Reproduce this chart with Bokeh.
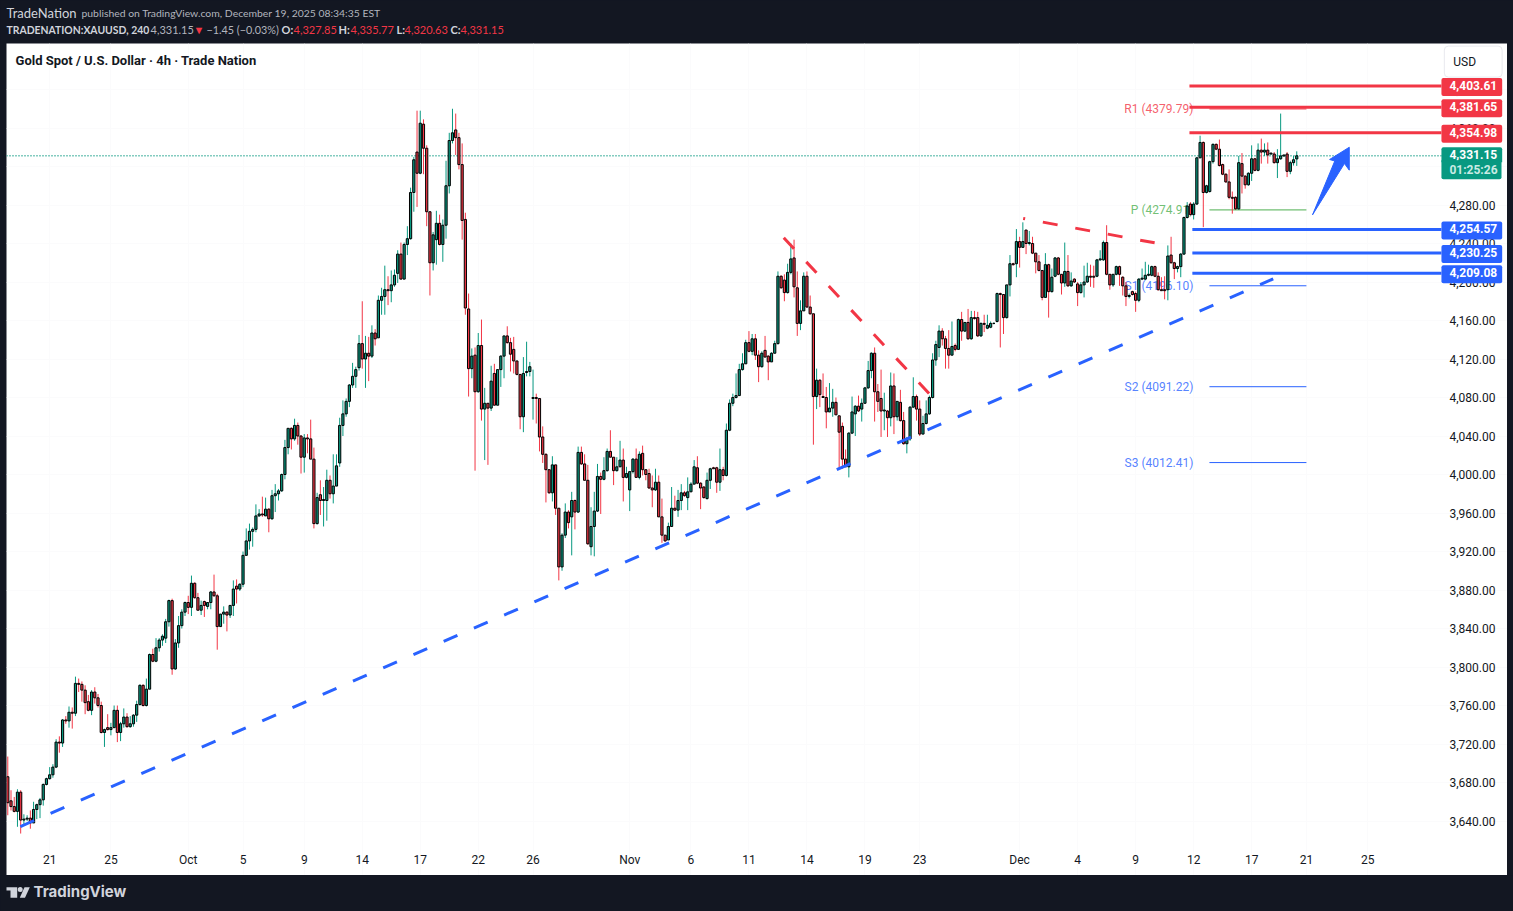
from bokeh.core.properties import value
from bokeh.embed import file_html
from bokeh.layouts import column
from bokeh.models import ColumnDataSource, FixedTicker, Label, NumeralTickFormatter, Range1d
from bokeh.plotting import figure
from bokeh.resources import INLINE

# 4h candles
opens = [3686,3661,3655,3650,3670,3641,3642,3643,3638,3652,3657,3662,3678,3684,3688,3696,3722,3721,3745,3744,
 3753,3752,3783,3782,3776,3764,3755,3774,3768,3760,3732,3737,3735,3737,3755,3732,3741,3748,3738,3741,
 3750,3761,3781,3760,3777,3813,3806,3820,3828,3830,3847,3869,3798,3825,3843,3857,3867,3862,3887,3872,
 3859,3868,3863,3867,3878,3874,3842,3855,3857,3854,3864,3884,3881,3886,3916,3931,3941,3943,3957,3959,
 3957,3964,3954,3978,3980,3983,4000,4028,4048,4037,4051,4040,4018,4038,4037,4016,3949,3979,3973,3973,
 3994,3980,3988,4012,4051,4063,4076,4093,4102,4111,4136,4120,4126,4123,4147,4142,4181,4185,4192,4191,
 4197,4209,4229,4203,4239,4245,4293,4335,4313,4364,4339,4273,4220,4244,4261,4239,4259,4300,4347,4358,
 4350,4322,4265,4172,4110,4124,4086,4134,4068,4074,4069,4105,4072,4109,4123,4144,4137,4130,4118,4104,
 4060,4106,4107,4079,4080,4079,4039,4021,4005,3981,4010,3965,3904,3937,3961,3956,3973,3961,4023,4011,
 3994,3925,3946,3962,3998,3995,4004,4024,4018,4004,4008,4015,3997,3984,4003,4016,3997,4022,4005,4001,
 3986,3984,3992,3956,3937,3932,3946,3965,3963,3973,3981,3976,3982,3990,4007,3991,3987,3975,3994,4007,
 4007,3992,4005,3999,4046,4074,4080,4082,4109,4115,4137,4128,4141,4124,4112,4129,4123,4117,4126,4136,
 4206,4202,4189,4210,4225,4194,4157,4170,4206,4174,4167,4081,4098,4081,4080,4065,4069,4075,4061,4050,
 4016,4008,4043,4063,4071,4068,4074,4090,4108,4126,4086,4079,4066,4066,4059,4092,4060,4075,4056,4032,
 4037,4070,4081,4068,4042,4053,4063,4080,4119,4132,4149,4141,4131,4124,4134,4130,4161,4149,4158,4141,
 4163,4163,4144,4157,4152,4153,4157,4159,4188,4187,4163,4197,4219,4219,4242,4236,4254,4240,4240,4230,
 4221,4212,4184,4218,4190,4206,4225,4208,4199,4211,4196,4203,4198,4189,4197,4200,4206,4206,4206,4223,
 4223,4241,4208,4197,4208,4216,4205,4196,4185,4190,4188,4181,4203,4203,4207,4207,4216,4206,4192,4192,
 4192,4228,4220,4214,4216,4229,4267,4281,4270,4281,4329,4345,4293,4294,4325,4343,4338,4322,4312,4304,
 4288,4288,4276,4323,4310,4301,4313,4328,4316,4337,4335,4337,4333,4333,4324,4328,4331,4333,4315,4324,
 4327.85]
highs = [3707,3672,3665,3673,3672,3647,3646,3651,3660,3658,3664,3679,3685,3696,3699,3725,3728,3746,3749,3759,
 3758,3790,3788,3785,3781,3771,3776,3779,3772,3764,3736,3751,3742,3760,3760,3743,3757,3752,3749,3751,
 3765,3782,3782,3788,3814,3819,3830,3830,3834,3850,3870,3871,3829,3853,3860,3868,3874,3895,3888,3877,
 3869,3869,3867,3879,3896,3876,3855,3863,3858,3864,3890,3891,3887,3920,3944,3949,3945,3969,3964,3977,
 3976,3965,3984,3990,3985,4001,4036,4048,4049,4058,4054,4041,4042,4042,4057,4028,3981,3994,3987,4005,
 3999,4021,4021,4059,4077,4079,4094,4116,4112,4145,4180,4144,4143,4155,4151,4186,4194,4217,4206,4212,
 4213,4233,4241,4241,4258,4298,4330,4378,4378,4369,4342,4273,4252,4274,4270,4265,4326,4355,4380,4375,
 4355,4344,4272,4188,4131,4132,4147,4161,4090,4074,4113,4115,4109,4124,4144,4154,4142,4143,4118,4104,
 4122,4138,4117,4109,4084,4079,4050,4022,4005,4019,4010,3965,3939,3970,3963,3982,3974,4029,4029,4021,
 4010,3966,3982,4011,4002,4018,4027,4046,4018,4018,4035,4027,4008,4003,4017,4027,4024,4030,4005,4006,
 3999,4006,3999,3975,3937,3950,3987,3978,3984,3990,3983,3997,3992,4015,4019,3992,3988,4002,4007,4008,
 4008,4027,4008,4053,4078,4084,4105,4115,4126,4140,4149,4146,4146,4129,4128,4144,4124,4127,4139,4211,
 4207,4208,4219,4240,4244,4211,4181,4210,4211,4186,4167,4110,4099,4105,4091,4095,4089,4080,4061,4054,
 4026,4044,4081,4072,4082,4079,4091,4118,4127,4132,4094,4109,4085,4067,4106,4105,4076,4088,4065,4039,
 4071,4101,4083,4077,4061,4077,4082,4126,4139,4155,4152,4144,4150,4159,4136,4162,4169,4158,4172,4170,
 4170,4169,4158,4166,4166,4159,4158,4189,4189,4187,4197,4228,4220,4255,4247,4262,4254,4253,4247,4230,
 4228,4212,4230,4219,4214,4226,4226,4208,4241,4228,4210,4204,4200,4200,4217,4220,4218,4217,4224,4233,
 4243,4259,4208,4208,4217,4217,4206,4200,4188,4191,4190,4204,4214,4221,4218,4217,4217,4210,4205,4206,
 4238,4247,4221,4217,4230,4268,4283,4283,4283,4330,4352,4346,4301,4326,4344,4344,4348,4323,4313,4317,
 4294,4289,4331,4334,4311,4314,4342,4329,4344,4349,4344,4345,4334,4335,4338,4375,4332,4335,4326,4331,
 4335.77]
lows = [3646,3651,3649,3634,3627,3635,3640,3632,3638,3642,3643,3656,3677,3683,3685,3695,3711,3717,3741,3737,
 3736,3749,3774,3764,3751,3754,3750,3762,3758,3731,3717,3734,3729,3737,3722,3723,3737,3737,3737,3738,
 3743,3760,3759,3759,3777,3805,3805,3816,3822,3825,3842,3792,3797,3820,3840,3853,3855,3853,3871,3859,
 3854,3852,3860,3860,3873,3818,3842,3845,3837,3851,3853,3866,3879,3883,3916,3922,3925,3940,3956,3956,
 3957,3940,3953,3961,3973,3982,3995,4021,4026,4035,4031,4001,4002,4022,4016,3944,3948,3958,3946,3952,
 3975,3970,3988,4008,4040,4060,4070,4090,4090,4108,4110,4090,4097,4121,4134,4142,4166,4166,4176,4179,
 4195,4199,4203,4203,4228,4244,4273,4278,4312,4312,4258,4186,4212,4218,4238,4221,4245,4292,4344,4332,
 4317,4244,4166,4081,4100,4004,4085,4056,4015,4010,4066,4072,4072,4091,4100,4136,4107,4105,4103,4047,
 4044,4102,4102,4057,4053,4024,4012,3971,3980,3972,3958,3890,3900,3934,3944,3916,3943,3960,4010,3994,
 3927,3916,3915,3961,3959,3994,4003,4018,3989,4003,4008,3972,3996,3962,4001,3997,3995,3999,3994,3985,
 3966,3983,3956,3929,3930,3932,3946,3962,3956,3963,3977,3963,3982,3990,3990,3964,3975,3974,3985,4006,
 3981,3983,3994,3998,4045,4071,4079,4082,4108,4115,4127,4124,4119,4096,4111,4122,4098,4117,4126,4135,
 4193,4180,4188,4208,4184,4144,4150,4170,4173,4166,4031,4068,4070,4080,4048,4065,4060,4062,4006,4006,
 4008,3997,4042,4040,4065,4055,4074,4089,4100,4055,4065,4039,4046,4039,4050,4042,4056,4055,4031,4022,
 4035,4069,4056,4040,4042,4052,4062,4079,4113,4122,4134,4110,4110,4124,4128,4130,4139,4148,4140,4140,
 4161,4143,4143,4148,4151,4152,4156,4158,4132,4146,4162,4185,4217,4205,4215,4236,4229,4238,4229,4209,
 4211,4181,4184,4163,4189,4205,4207,4187,4195,4195,4195,4199,4175,4188,4184,4199,4195,4194,4205,4222,
 4222,4207,4192,4195,4207,4196,4186,4175,4183,4186,4169,4179,4202,4202,4206,4206,4205,4191,4191,4182,
 4181,4219,4203,4210,4205,4228,4266,4269,4265,4280,4329,4257,4292,4293,4323,4337,4320,4311,4303,4286,
 4271,4275,4275,4292,4297,4300,4305,4315,4315,4323,4331,4323,4332,4323,4308,4327,4330,4309,4312,4321,
 4320.63]
closes = [3659,3655,3650,3670,3641,3642,3643,3638,3652,3657,3662,3678,3684,3688,3696,3722,3721,3745,3744,3753,
 3752,3783,3782,3776,3763,3755,3774,3768,3760,3732,3735,3735,3737,3755,3732,3741,3748,3738,3741,3750,
 3761,3781,3760,3777,3813,3806,3820,3828,3832,3847,3869,3798,3825,3843,3857,3867,3862,3887,3872,3859,
 3864,3864,3867,3878,3874,3842,3855,3857,3854,3864,3881,3881,3886,3916,3931,3941,3943,3957,3959,3958,
 3964,3954,3978,3980,3983,4000,4028,4048,4037,4051,4040,4018,4038,4037,4016,3949,3976,3973,3974,3994,
 3980,3988,4009,4051,4063,4076,4093,4102,4109,4136,4120,4126,4123,4147,4141,4181,4185,4192,4191,4197,
 4207,4229,4203,4239,4245,4293,4327,4313,4365,4339,4273,4220,4249,4261,4239,4259,4300,4347,4355,4350,
 4322,4264,4173,4110,4123,4086,4134,4068,4074,4069,4097,4072,4109,4123,4144,4137,4125,4118,4104,4060,
 4105,4107,4112,4080,4079,4039,4021,4005,3981,4010,3965,3904,3937,3961,3950,3973,3961,4023,4011,3994,
 3928,3946,3962,3998,3995,4004,4024,4018,4004,4008,4015,3997,4001,4003,4016,3997,4021,4005,4000,3986,
 3984,3992,3956,3937,3931,3946,3965,3963,3973,3981,3978,3982,3990,4008,3991,3986,3976,3994,4006,4006,
 3992,4005,3999,4046,4074,4080,4082,4109,4115,4137,4128,4141,4124,4112,4126,4122,4117,4126,4136,4206,
 4194,4189,4210,4224,4195,4157,4170,4206,4174,4167,4081,4098,4083,4080,4065,4069,4075,4062,4044,4016,
 4008,4043,4065,4071,4066,4074,4090,4108,4126,4086,4076,4066,4067,4059,4092,4060,4076,4056,4032,4037,
 4070,4081,4068,4042,4053,4063,4080,4119,4135,4149,4141,4131,4124,4133,4130,4161,4149,4158,4141,4163,
 4162,4144,4157,4156,4155,4157,4157,4188,4187,4163,4197,4219,4218,4242,4236,4242,4240,4241,4230,4221,
 4212,4184,4218,4190,4205,4225,4208,4199,4211,4196,4201,4200,4189,4197,4200,4206,4205,4205,4223,4224,
 4241,4208,4197,4208,4216,4208,4196,4185,4186,4187,4181,4203,4204,4207,4208,4216,4206,4192,4191,4191,
 4227,4220,4214,4216,4229,4267,4279,4270,4281,4329,4345,4293,4300,4325,4343,4338,4321,4312,4304,4288,
 4287,4276,4324,4310,4301,4313,4328,4316,4337,4335,4337,4332,4334,4324,4328,4331,4332,4315,4324,4327,
 4331.15]

price_ticks = [3640,3680,3720,3760,3800,3840,3880,3920,3960,4000,4040,4080,4120,4160,4200,4240,4280,4320,4360,4400]
date_bars = [13,32,56,73,92,110,128,146,163,193,212,230,248,266,283,314,332,350,368,386,403,422]
date_labels = ["21","25","Oct","5","9","14","17","22","26","Nov","6","11","14","19","23","Dec","4","9","12","17","21","25"]

red_levels = [4403.61,4381.65,4354.98]
blue_levels = [4254.57,4230.25,4209.08]
last_price = 4331.15

pivot_names = ["R1 (4379.79)","P (4274.91)","S1 (4196.10)","S2 (4091.22)","S3 (4012.41)"]
pivot_values = [4379.79,4274.91,4196.10,4091.22,4012.41]
pivot_colors = ["#f23645","#4caf50","#2962ff","#2962ff","#2962ff"]

trend_x = [3.9,392.7]
trend_y = [3634.3,4203.3]
fall_x = [240.8,286.0]
fall_y = [4246,4083.8]
flat_x = [315.1,355.9]
flat_y = [4266,4240.7]
arrow_x = [404.9,411.8,410.2,416.3,416.3,414.8]
arrow_y = [4269.8,4325.7,4327.3,4340,4316.2,4323.1]

DARK = "#131722"
GREEN = "#089981"
RED = "#f23645"
BLUE = "#2962ff"
FONT = "Roboto"
HEAD_FONT = "Lato"
SCALE_X = 444.9  # where the price scale starts
TIME_Y = 3619.8  # where the time scale starts

n = len(closes)
colors = [GREEN if c >= o else RED for o, c in zip(opens, closes)]
source = ColumnDataSource(data=dict(
    x=list(range(n)), o=opens, h=highs, l=lows, c=closes, color=colors,
    top=[max(a, b) for a, b in zip(opens, closes)],
    bottom=[min(a, b) for a, b in zip(opens, closes)],
))

# main chart: the frame covers the whole white panel, the axes sit inside it
p = figure(width=1501, height=832, output_backend="svg", toolbar_location=None, tools="",
           x_range=Range1d(-0.4, 465.4), y_range=Range1d(3583.4, 4447.8), y_axis_location="right",
           min_border=0, background_fill_color="white", border_fill_color="white", margin=(0, 6, 0, 6))
p.outline_line_color = None
p.xgrid.grid_line_color = "#fbfbfc"
p.ygrid.grid_line_color = "#fbfbfc"
p.xgrid.bounds = (TIME_Y, 4447.8)
p.ygrid.bounds = (-0.4, SCALE_X)

p.xaxis.ticker = FixedTicker(ticks=date_bars)
p.xaxis.major_label_overrides = dict(zip(date_bars, date_labels))
p.yaxis.ticker = FixedTicker(ticks=price_ticks)
p.yaxis.formatter = NumeralTickFormatter(format="0,0.00")
p.xaxis.fixed_location = TIME_Y
p.yaxis.fixed_location = SCALE_X
for ax in (p.xaxis[0], p.yaxis[0]):
    ax.axis_line_color = None
    ax.major_tick_line_color = None
    ax.major_tick_out = 0
    ax.minor_tick_line_color = None
    ax.major_label_text_font = FONT
    ax.major_label_text_font_size = "12px"
    ax.major_label_text_color = "#131722"
p.xaxis.major_label_standoff = 13
p.yaxis.major_label_standoff = 8

p.line([-0.4, SCALE_X], [last_price, last_price], line_color=GREEN, line_width=1.5, line_dash=[1, 2])

# pivot labels sit under the candles
label_right = 367.9
p.text([label_right] * 5, pivot_values, text=pivot_names, text_color=pivot_colors, text_align="right",
       text_baseline="middle", text_font=value(FONT), text_font_size="12px", text_alpha=0.8)
for v, col in zip(pivot_values, pivot_colors):
    p.line([372.9, 403], [v, v], line_color=col, line_width=1)

p.segment("x", "h", "x", "l", source=source, line_color="color", line_width=1)
p.vbar(x="x", top="top", bottom="bottom", width=0.68, source=source, fill_color="color",
       line_color="black", line_width=1)

for v in red_levels:
    p.line([366.7, SCALE_X], [v, v], line_color=RED, line_width=3)
for v in blue_levels:
    p.line([367.6, SCALE_X], [v, v], line_color=BLUE, line_width=3)

p.line(trend_x, trend_y, line_color=BLUE, line_width=3, line_dash=[15, 18])
p.line(fall_x, fall_y, line_color=RED, line_width=3, line_dash=[15, 18])
p.line(flat_x, flat_y, line_color=RED, line_width=3, line_dash=[15, 18], line_dash_offset=13)
p.patch(arrow_x, arrow_y, fill_color=BLUE, line_color=BLUE, line_width=1)

p.add_layout(Label(x=2.4, y=4430, text="Gold Spot / U.S. Dollar · 4h · Trade Nation", text_font=FONT,
                   text_font_size="13px", text_font_style="bold", text_color="#131722", text_baseline="middle"))
p.add_layout(Label(x=445.8, y=4429, text="USD", text_font=FONT, text_font_size="12px", text_color="#131722",
                   text_baseline="middle", border_line_color="#e8e9ee", background_fill_color="white",
                   border_radius=4, padding=(9, 26, 9, 8)))

# price tags on the scale
for v in red_levels + blue_levels:
    p.add_layout(Label(x=SCALE_X, y=v, y_offset=-1, text=f"{v:,.2f}", text_font=FONT, text_font_size="12px",
                       text_font_style="bold", text_color="white", text_baseline="middle",
                       background_fill_color=RED if v in red_levels else BLUE, border_radius=2,
                       padding=(8, 5, 3, 6)))
p.add_layout(Label(x=SCALE_X, y=last_price, y_offset=1, text=f"{last_price:,.2f}", text_font=FONT,
                   text_font_size="12px", text_font_style="bold", text_color="white", text_baseline="middle",
                   background_fill_color=GREEN, border_radius=(2, 2, 0, 0), padding=(8, 5, 3, 3)))
p.add_layout(Label(x=SCALE_X, y=last_price - 15.6, y_offset=1, text="01:25:26", text_font=FONT,
                   text_font_size="12px", text_font_style="bold", text_color="#c9ebe4", text_baseline="middle",
                   background_fill_color=GREEN, border_radius=(0, 0, 2, 2), padding=(8, 4, 3, 2)))

# header strip, ranges in page pixels
head = figure(width=1513, height=43, output_backend="svg", toolbar_location=None, tools="",
              x_range=Range1d(0, 1513), y_range=Range1d(43, 0), x_axis_type=None, y_axis_type=None,
              min_border=0, background_fill_color=DARK, border_fill_color=DARK)
head.outline_line_color = None
head.grid.visible = False

head_texts = [
    (6, 12, "TradeNation", "#d1d4dc", "normal", "13px"),
    (81, 12, "published on TradingView.com, December 19, 2025 08:34:35 EST", "#b2b5be", "normal", "10.4px"),
    (6, 29, "TRADENATION:XAUUSD, 240", "#d1d4dc", "bold", "10.4px"),
    (150, 29, "4,331.15", "#b2b5be", "normal", "11px"),
    (193, 29, "▼", "#f23645", "normal", "11px"),
    (206, 29, "−1.45 (−0.03%)", "#b2b5be", "normal", "10.8px"),
    (281, 29, "O:", "#d1d4dc", "bold", "11px"),
    (293, 29, "4,327.85", "#f23645", "normal", "11px"),
    (338, 29, "H:", "#d1d4dc", "bold", "11px"),
    (350, 29, "4,335.77", "#f23645", "normal", "11px"),
    (396, 29, "L:", "#d1d4dc", "bold", "11px"),
    (404, 29, "4,320.63", "#f23645", "normal", "11px"),
    (450, 29, "C:", "#d1d4dc", "bold", "11px"),
    (460, 29, "4,331.15", "#f23645", "normal", "11px"),
]
for x, y, txt, col, style, size in head_texts:
    head.add_layout(Label(x=x, y=y, text=txt, text_color=col, text_font=HEAD_FONT, text_font_size=size,
                          text_font_style=style, text_baseline="middle"))

# footer strip with the logo
foot = figure(width=1513, height=36, output_backend="svg", toolbar_location=None, tools="",
              x_range=Range1d(0, 1513), y_range=Range1d(36, 0), x_axis_type=None, y_axis_type=None,
              min_border=0, background_fill_color=DARK, border_fill_color=DARK)
foot.outline_line_color = None
foot.grid.visible = False
foot.patch([6, 16.7, 16.7, 10, 10, 6], [11.7, 11.7, 22.3, 22.3, 15, 15], fill_color="#d1d4dc", line_color=None)
foot.scatter([19.7], [14], size=5, fill_color="#d1d4dc", line_color=None)
foot.patch([24, 29.3, 24.5, 19.3], [11.7, 11.7, 22.3, 22.3], fill_color="#d1d4dc", line_color=None)
foot.add_layout(Label(x=33, y=16, text="TradingView", text_color="#d1d4dc", text_font="Inter",
                      text_font_size="15px", text_font_style="bold", text_baseline="middle"))

layout = column(head, p, foot, spacing=0, margin=0, styles={"background-color": DARK})

open("out.html", "w").write(file_html(layout, INLINE))
